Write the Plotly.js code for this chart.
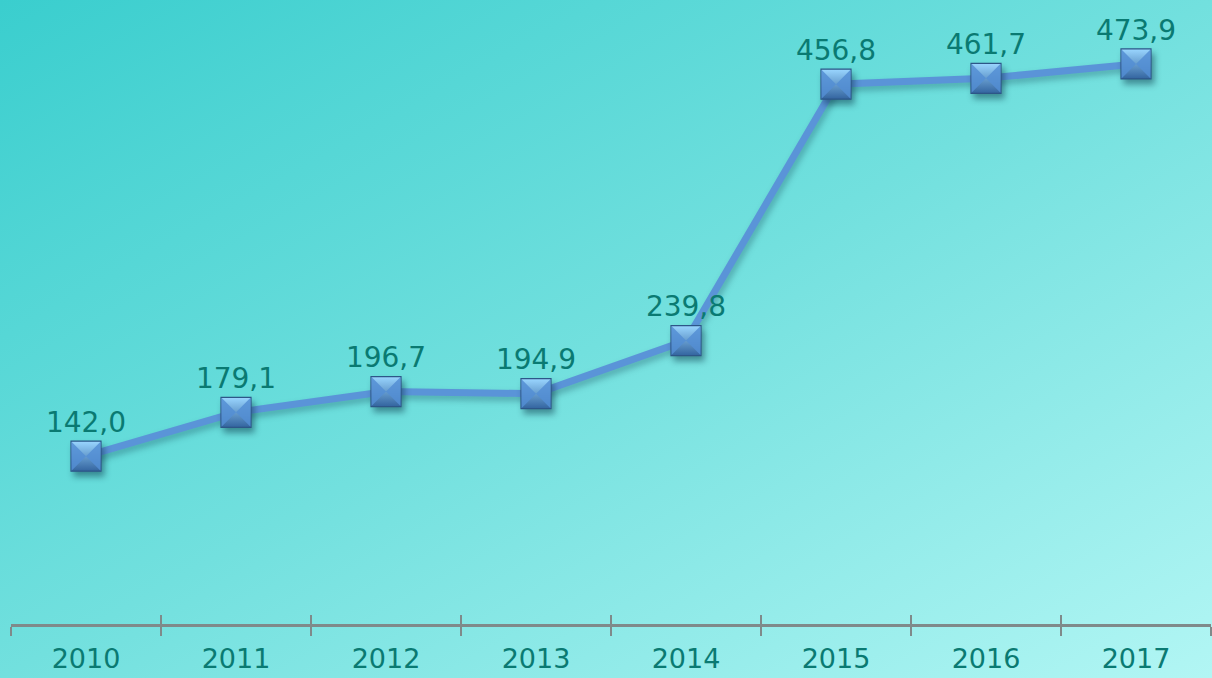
<!DOCTYPE html>
<html>
<head>
<meta charset="utf-8">
<script src="https://cdn.plot.ly/plotly-3.0.1.min.js"></script>
<style>
  html, body { margin: 0; padding: 0; }
  body { width: 1212px; height: 678px; overflow: hidden;
         background: linear-gradient(to bottom right, #3acece 0%, #72e0de 50%, #b2f6f4 100%); }
  #chart { width: 1212px; height: 678px; }
  .scatterlayer .trace:nth-child(2) path.point { filter: drop-shadow(3px 5px 3px rgba(0,40,60,0.45)); }
  .scatterlayer .trace:nth-child(1) path.js-line { filter: drop-shadow(2px 4px 3px rgba(0,40,60,0.3)); }
</style>
</head>
<body>
<div id="chart"></div>
<script>
const years = ["2010", "2011", "2012", "2013", "2014", "2015", "2016", "2017"];
const values = [142.0, 179.1, 196.7, 194.9, 239.8, 456.8, 461.7, 473.9];
const labels = values.map(v => v.toFixed(1).replace(".", ","));

const labelColor = "#0a7a72";
const font = "DejaVu Sans, Verdana, sans-serif";

const traces = [
  { x: years, y: values, type: "scatter", mode: "lines",
    line: { color: "#5a94d8", width: 7 }, hoverinfo: "skip", showlegend: false },
  { x: years, y: values, type: "scatter", mode: "markers",
    marker: { symbol: "square", size: 30, color: "#9ad6ff",
              gradient: { type: "vertical", color: "#33649f" },
              line: { color: "#2d5688", width: 1.2 } },
    hoverinfo: "skip", showlegend: false },
  { x: years, y: values, type: "scatter", mode: "markers",
    marker: { symbol: "bowtie", size: 29, color: "rgba(84,142,212,0.85)",
              line: { width: 0 } },
    hoverinfo: "skip", showlegend: false },
  { x: years, y: values, type: "scatter", mode: "markers+text",
    text: labels, textposition: "top center",
    textfont: { family: font, size: 28, color: labelColor },
    marker: { symbol: "square", size: 26, color: "rgba(0,0,0,0)", line: { width: 0 } },
    cliponaxis: false, hoverinfo: "skip", showlegend: false }
];

const layout = {
  width: 1212, height: 678,
  margin: { l: 11, r: 1, t: 0, b: 54 },
  paper_bgcolor: "rgba(0,0,0,0)", plot_bgcolor: "rgba(0,0,0,0)",
  showlegend: false,
  xaxis: {
    type: "category", range: [-0.5, 7.5], fixedrange: true,
    showgrid: false, zeroline: false,
    showline: true, linecolor: "#7f8a8a", linewidth: 3,
    ticks: "outside", tickson: "boundaries", ticklen: 9, tickwidth: 2, tickcolor: "#7f8a8a",
    tickfont: { family: font, size: 27, color: labelColor },
    ticklabelstandoff: 9
  },
  xaxis2: {
    type: "category", range: [-0.5, 7.5], overlaying: "x", matches: "x", anchor: "y",
    showgrid: false, zeroline: false, showline: false,
    ticks: "inside", tickson: "boundaries", ticklen: 9, tickwidth: 2, tickcolor: "#7f8a8a",
    showticklabels: false
  },
  yaxis: { range: [0, 528], visible: false, fixedrange: true, showgrid: false, zeroline: false }
};

traces.push({ x: years, y: values, xaxis: "x2", type: "scatter", mode: "none",
              hoverinfo: "skip", showlegend: false });

Plotly.newPlot("chart", traces, layout, { displayModeBar: false, staticPlot: true });
</script>
</body>
</html>
